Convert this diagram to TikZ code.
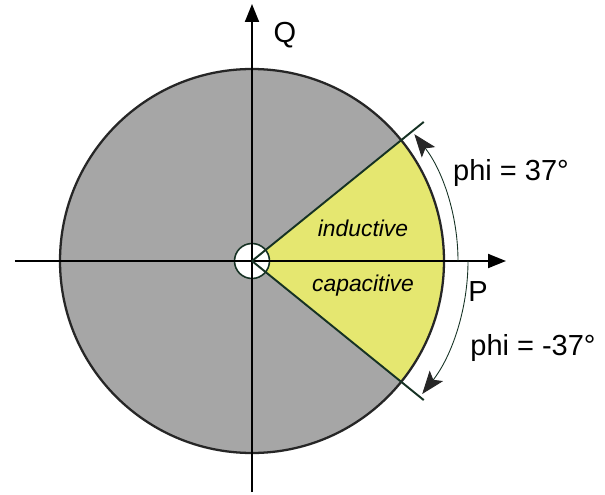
\documentclass[tikz,border=0pt]{standalone}
\usepackage{fontspec}
\setmainfont{Liberation Sans}
\usepackage{xcolor}
\usetikzlibrary{arrows.meta, calc}

\definecolor{diskgray}{RGB}{166,166,166}
\definecolor{sectoryellow}{RGB}{229,231,112}
\definecolor{darkline}{RGB}{22,50,36}

\begin{document}
\begin{tikzpicture}[x=0.02cm, y=0.02cm]
\tikzstyle{axis} = [line width=1.1pt, black, -{Triangle[length=0.36cm,width=0.28cm]}]
\tikzstyle{edge} = [line width=1.1pt, darkline]
\tikzstyle{anglearc} = [line width=0.5pt, darkline, -{Stealth[length=0.46cm,width=0.34cm,inset=0.1cm,color=black!85]}]
\tikzstyle{label} = [font=\fontsize{16.5}{18}\selectfont, inner sep=0pt]
\tikzstyle{region} = [font=\fontsize{13}{15}\selectfont\itshape, inner sep=0pt]

\useasboundingbox (-252,-233) rectangle (353,261);

% Disk and sector
\coordinate (O) at (0,0);
\fill[diskgray] (O) circle (192);
\fill[sectoryellow] (O) -- (-39:192) arc (-39:39:192) -- cycle;
\draw[line width=1.3pt, black!85] (O) circle (192);
\filldraw[fill=white, draw=darkline, line width=0.9pt] (O) circle (17.5);

% Axes
\coordinate (pstart) at (-237,0);
\coordinate (pend) at (254,0);
\coordinate (qstart) at (0,-231);
\coordinate (qend) at (0,257);
\draw[axis] (pstart) -- (pend);
\draw[axis] (qstart) -- (qend);

% Sector edges
\coordinate (upper) at (39:221);
\coordinate (lower) at (-39:221);
\draw[edge] (O) -- (upper);
\draw[edge] (O) -- (lower);

% Angle arcs
\draw[anglearc] (0:206) arc (0:38:206);
\draw[anglearc] (0:216) arc (0:-38:216);

% Labels
\node[label] (qlab) at (33,226) {Q};
\node[label] (plab) at (226,-31) {P};
\node[label] (phipos) at (259,88) {phi = 37°};
\node[label] (phineg) at (281,-87) {phi = -37°};
\node[region] (ind) at (111,33) {inductive};
\node[region] (cap) at (111,-25) {capacitive};

\end{tikzpicture}
\end{document}
